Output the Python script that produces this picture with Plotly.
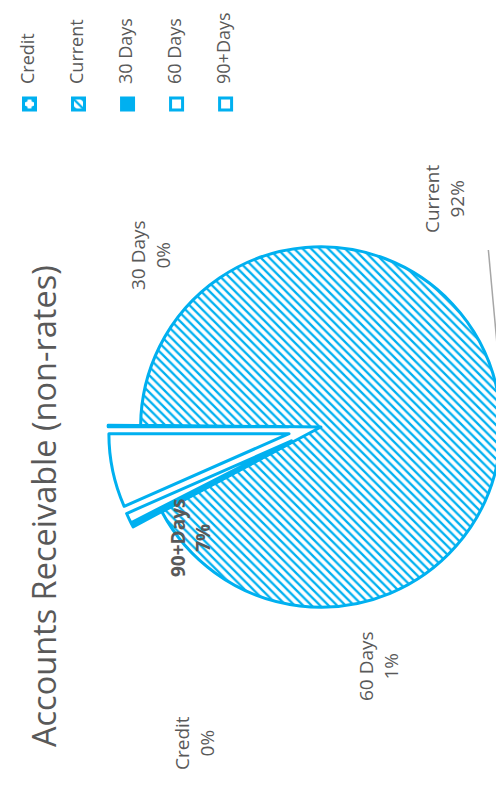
import plotly.graph_objects as go

# ---------------- data ----------------
categories = ["Credit", "Current", "30 Days", "60 Days", "90+Days"]
values = [0.15, 92.05, 0.3, 0.9, 6.6]
chart_title = "Accounts Receivable (non-rates)"

# ---------------- styling ----------------
BLUE = "#00B0F0"
GREY = "#595959"
FONT = "Open Sans"
W, H = 803, 540          # unrotated canvas (page shows it turned 90deg CCW)

def px(x, y):
    return x / W, 1 - y / H

total = sum(values)
pcts = [f"{round(v / total * 100):.0f}%" for v in values]

cx, cy, r, pull = 376, 315, 185, 0.18
half = r * (1 + pull)

LEG_F = 11.8   # legend base font (sets row pitch); visible text is 18px
leg_text = [f"\u00a0<br><span style='font-size:18px'>{c}</span><br>\u00a0" for c in categories]

fig = go.Figure(go.Pie(
    labels=leg_text, values=values, sort=False, direction="clockwise", rotation=0,
    pull=[pull, 0, pull, pull, pull],
    textinfo="none", hoverinfo="percent",
    marker=dict(
        colors=["white", "white", BLUE, "white", "white"],
        line=dict(color=BLUE, width=3),
        pattern=dict(shape=[".", "/", "", "", ""], fgcolor=BLUE,
                     bgcolor=["white", "white", BLUE, "white", "white"],
                     size=[9, 6, 6, 6, 6], solidity=[0.3, 0.38, 0.3, 0.3, 0.3]),
    ),
    domain=dict(x=[(cx - half) / W, (cx + half) / W],
                y=[1 - (cy + half) / H, 1 - (cy - half) / H]),
))

label_pos = {"Credit": (31, 185), "Current": (640, 470), "30 Days": (585, 112),
             "60 Days": (100, 402), "90+Days": (224, 153)}
anns = []
for cat, p in zip(categories, pcts):
    x, y = px(*label_pos[cat])
    txt = f"{cat}<br>{p}"
    if cat == "90+Days":
        txt = f"<b>{cat}</b><br><b>{p}</b>"
    anns.append(dict(x=x, y=y, xref="paper", yref="paper", text=txt, showarrow=False,
                     font=dict(family=FONT, size=19, color=GREY), align="center"))

x0, y0 = px(553, 487)
x1, y1 = px(415, 500)
fig.add_shape(type="line", xref="paper", yref="paper", x0=x0, y0=y0, x1=x1, y1=y1,
              line=dict(color="#A6A6A6", width=1.5))

row = 3 * 1.3 * LEG_F + 3
leg_top = 15 - 5 - row / 2

fig.update_layout(
    width=W, height=H, margin=dict(l=0, r=0, t=0, b=0),
    paper_bgcolor="white", plot_bgcolor="white",
    title=dict(text=chart_title, x=56 / W, xanchor="left", y=1 - 45 / H, yanchor="middle",
               xref="container", yref="container",
               font=dict(family=FONT, size=32.5, color=GREY)),
    annotations=anns,
    showlegend=True,
    legend=dict(x=679 / W, xanchor="left", y=1 - leg_top / H, yanchor="top",
                font=dict(family=FONT, size=LEG_F, color=GREY), itemwidth=30,
                traceorder="normal"),
)

post = """
var gd = document.getElementById('{plot_id}');
document.documentElement.style.overflow = 'hidden';
document.body.style.margin = '0';
document.body.style.overflow = 'hidden';
gd.style.position = 'absolute';
gd.style.left = '0px';
gd.style.top = '0px';
gd.style.transformOrigin = '0 0';
gd.style.transform = 'translateY(803px) rotate(-90deg)';
"""

fig.write_html("out.html", config={"displayModeBar": False}, post_script=post)
